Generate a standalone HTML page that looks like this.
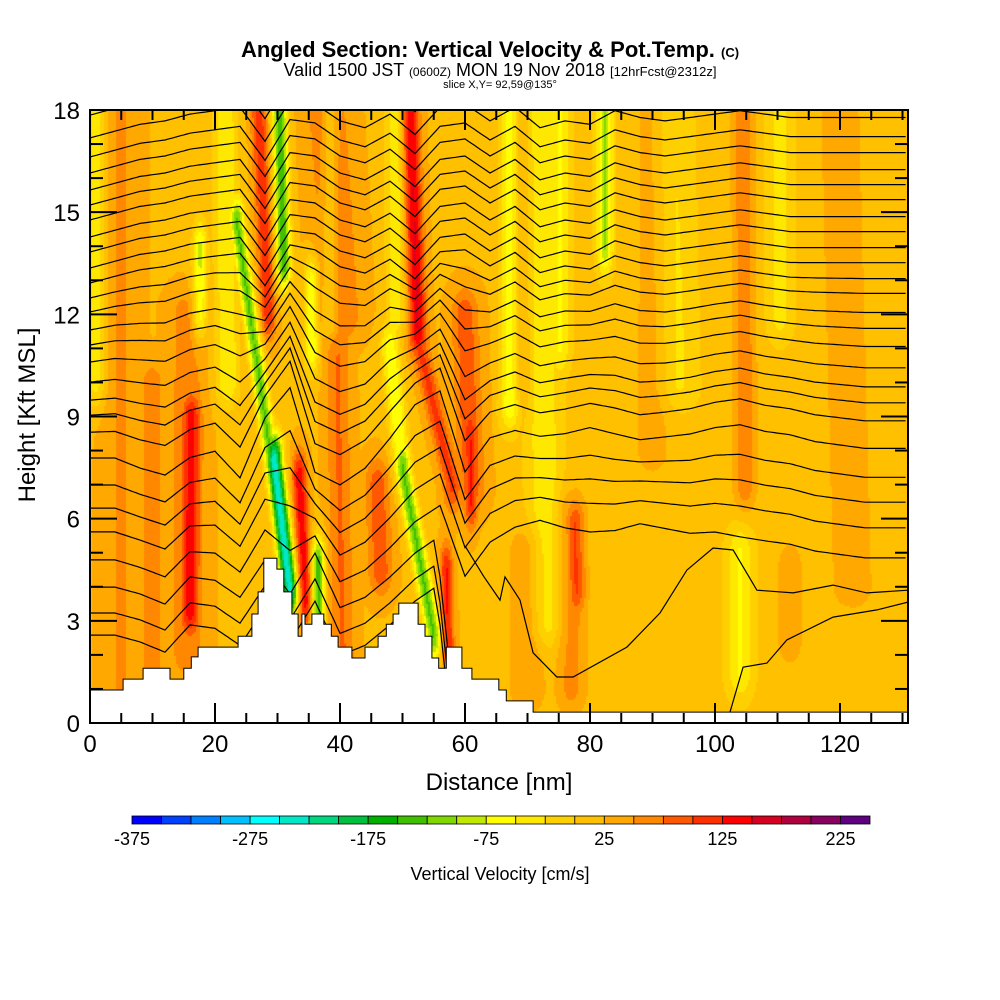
<!DOCTYPE html>
<html><head><meta charset="utf-8"><style>
body{margin:0;background:#fff;}
#wrap{position:relative;width:1000px;height:1000px;background:#fff;font-family:"Liberation Sans",sans-serif;}
canvas{position:absolute;left:90px;top:110px;}
svg{position:absolute;left:0;top:0;}
</style></head><body>
<div id="wrap">
<canvas id="field" width="818" height="613"></canvas>
<svg id="svg" width="1000" height="1000">
<text x="490" y="57" text-anchor="middle" font-size="22" font-weight="bold">Angled Section: Vertical Velocity &amp; Pot.Temp. <tspan font-size="13">(C)</tspan></text>
<text x="500" y="76" text-anchor="middle" font-size="18">Valid 1500 JST <tspan font-size="12">(0600Z)</tspan> MON 19 Nov 2018 <tspan font-size="13">[12hrFcst@2312z]</tspan></text>
<text x="500" y="88" text-anchor="middle" font-size="11">slice X,Y= 92,59@135°</text>
<g id="contours" clip-path="url(#pc)"></g>
<path id="terrain" fill="#fff" stroke="#000" stroke-width="1"/>
<clipPath id="pc"><rect x="90" y="110" width="818" height="613"/></clipPath>
<rect x="90" y="110" width="818" height="613" fill="none" stroke="#000" stroke-width="2"/>
<g id="ticks" stroke="#000" stroke-width="2"></g>
<g id="xlabels" font-size="24" text-anchor="middle"></g>
<g id="ylabels" font-size="24" text-anchor="end"></g>
<text x="499" y="790" text-anchor="middle" font-size="24">Distance [nm]</text>
<text x="0" y="0" transform="translate(35,415) rotate(-90)" text-anchor="middle" font-size="24">Height [Kft MSL]</text>
<g id="cbar"></g>
<text x="500" y="880" text-anchor="middle" font-size="18">Vertical Velocity [cm/s]</text>
</svg>
</div>
<script>
// ---- data ----
const binColors=["#0000ff","#0040ff","#0080ff","#00c0ff","#00ffff","#00e8c8","#00d880","#00c040","#00b000","#40c000","#80d800","#c0e800","#ffff00","#ffe800","#ffd000","#ffc000","#ffa800","#ff8800","#ff5800","#ff3000","#ff0000","#d80020","#b00040","#880060","#600080"];
const cbarLabels=[-375,-275,-175,-75,25,125,225];
const xTicks=[0,20,40,60,80,100,120];
const yTicks=[0,3,6,9,12,15,18];
// streaks: [nmTop,kftTop,nmBot,kftBot,halfWidthNm,value cm/s]
const streaks=[
[16.2,8.9,16,3.3,1.5,120],[15.5,12,15.5,2,3,40],[27,18,28.5,12,1.3,95],
[51.2,18,52.5,11.5,1.4,130],[52.8,11,58,7,1.5,85],[60.8,8.5,61,6.5,1.0,105],
[33.5,7.2,34.5,3.6,1.2,120],[39.5,11,40.5,1.5,2,55],[46,7,46.5,4.5,2,70],
[57,4.5,57.3,2.2,1.0,105],[77.6,5.8,77.8,3.9,1.5,95],[77,6,77,1,2.5,50],
[60,12,61,7,2.2,70],[38,18,40,12,3.5,55],[104.5,18,104.8,7,1.8,60],
[70,5,70,1,3,40],[112,4.5,112,2.5,2,40],[5,18,5,0,3,30],[10,10,10,1,2.5,35],
[68,18,68,10,2.5,40],[90,18,90,8,3,30],[120,18,122,4,4,30],
[30.3,18,31,13.5,1.2,-165],[23.5,14.7,32,3.9,1.2,-150],[29.5,7.7,32,3.9,1.3,-265],
[36.5,4.7,36.5,2.4,1.1,-160],[50,7.5,55,2.6,1.3,-150],[48,11,50,7.5,1.5,-95],
[17.6,14,17.6,12,1.2,-100],[35.5,13,35.5,11,1.2,-95],[67.2,18,67.2,9.5,1.5,-105],
[82.4,18,82.4,14,1.2,-110],[21.6,18,22,10,2,-70],[38.4,18,38.4,12,1.3,-65],
[48.8,18,48.8,12,1.5,-70],[72,18,73,3,2.5,-55],[75.2,18,75.2,11,1.5,-60],
[104,5,104,1.5,2,-60],[110.4,18,110.4,12,2,-45],[1,18,1,10,1.5,-60],[93,18,94,10,3,-40]
];
const baseLeft=22, baseRight=8;
const terrainX=[0,5.3,8.5,12.8,15,16.2,17.3,23.7,25.9,26.9,27.8,29.9,31,32.3,33.3,33.9,34.4,35.5,37.4,38.6,39.7,41.9,44,46.1,47.4,48.5,49.4,52.5,53.6,54.7,55.8,57,59.5,61.1,65.4,66.6,70.9];
const terrainH=[0.97,1.29,1.61,1.29,1.61,1.94,2.23,2.55,3.2,3.85,4.84,4.52,3.85,3.2,2.55,3.2,2.9,3.2,2.9,2.55,2.23,1.91,2.23,2.55,2.9,3.2,3.52,2.9,2.55,1.91,1.61,2.23,1.61,1.29,0.97,0.65,0.32];
const contourLevels=[17.85,17.18,16.62,16.15,15.65,15.21,14.77,14.27,13.83,13.36,12.92,12.48,12.07,11.54,11.1,10.6,10.01,9.48,9.04,8.54,7.78,6.99,6.31,5.61,4.79,3.99,3.23,2.58];
const profX=[0,4,8,12,16,20,24,28,32,36,40,44,48,52,56,60,64,68,72,76,80,84,88,92,96,100,104,108,112,116,120,124,128,132];
const dispHigh=[0,0.2,0.4,0.5,0.7,0.8,0.9,-0.1,1.1,1.0,0.5,0.3,0.7,0.1,0.9,1.0,0.5,0.9,0.3,0.5,0.4,0.8,0.6,0.5,0.6,0.7,0.8,0.7,0.6,0.6,0.6,0.6,0.6,0.6];
const dispMid=[0,0,-0.3,-0.5,0,0.2,-0.6,1.2,2.2,-0.5,-0.8,-0.3,0.6,1.6,2.0,-0.4,0.6,0.8,0.6,0.7,0.9,0.7,0.5,0.6,0.7,0.9,1.0,0.8,0.7,0.5,0.4,0.3,0.3,0.3];
const dispLow=[0,0,-0.2,-0.5,0.3,0.2,-0.3,0.8,-0.2,1.0,-0.6,-0.3,0.3,1.0,1.5,-0.5,0.5,1.0,1.3,1.0,0.8,0.9,1.2,1.0,0.8,0.8,0.6,0.5,0.4,0.2,0.1,0,0,0];
const line16X=[60,63,65.6,66.4,68.8,70.9,74.7,77.3,85.9,91.2,95.5,99.7,102.9,106.7,112.5,118.9,124.3,130.9];
const line16H=[5.2,4.3,3.61,4.29,3.61,2.06,1.35,1.35,2.23,3.23,4.49,5.14,5.08,3.9,3.82,4.05,3.82,3.9];
const line15X=[102.4,104.5,108.3,111.5,118.9,125.9,130.9];
const line15H=[0.32,1.64,1.76,2.44,3.11,3.32,3.55];

// ---- axes ----
const X0=90,X1=908,Y0=723,Y1=110,XMAX=130.88,YMAX=18;
const sx=v=>X0+v*(X1-X0)/XMAX;
const sy=v=>Y0-v*(Y0-Y1)/YMAX;
const NS="http://www.w3.org/2000/svg";
function mk(tag,parent){const e=document.createElementNS(NS,tag);parent.appendChild(e);return e;}
function binColor(v){let i=Math.floor((v+375)/25);i=Math.max(0,Math.min(24,i));return binColors[i];}
function interp(xa,ya,x){
 if(x<=xa[0])return ya[0];
 for(let i=1;i<xa.length;i++){if(x<=xa[i]){const f=(x-xa[i-1])/(xa[i]-xa[i-1]);return ya[i-1]+f*(ya[i]-ya[i-1]);}}
 return ya[ya.length-1];
}
function terrainAt(x){let h=terrainH[0];for(let i=0;i<terrainX.length;i++){if(x>=terrainX[i])h=terrainH[i];}return h;}

// ---- field ----
(function(){
 const cv=document.getElementById('field'),ctx=cv.getContext('2d');
 const W=818,H=613,step=2;
 for(let py=0;py<H;py+=step){
  const h=YMAX*(1-(py+1)/H);
  for(let px=0;px<W;px+=step){
   const x=XMAX*(px+1)/W;
   let pos=0,neg=0,acc=0;
   for(const s of streaks){
    const [xt,ht,xb,hb,w,val]=s;
    let t=(ht-h)/(ht-hb),env=1;
    if(t<0){env=Math.exp(-Math.pow((h-ht)/0.8,2));t=0;}
    else if(t>1){env=Math.exp(-Math.pow((hb-h)/0.8,2));t=1;}
    const xc=xt+t*(xb-xt);
    const d=(x-xc)/w;
    if(d>-4&&d<4){const c=val*Math.exp(-d*d)*env;
      if(c>0){acc+=c*0.25;if(c>pos)pos=c;}else{if(c<neg)neg=c;}}
   }
   let v=(x<65?baseLeft:baseRight)+pos+neg+Math.min(acc,15)-Math.min(pos*0.25,15);
   ctx.fillStyle=binColor(v);
   ctx.fillRect(px,py,step,step);
  }
 }
})();

// ---- contours ----
const cg=document.getElementById('contours');
contourLevels.forEach((lev,k)=>{
 let pts=[];
 for(let x=0;x<=XMAX+0.01;x+=0.5){
  const hi=interp(profX,dispHigh,x),mi=interp(profX,dispMid,x),lo=interp(profX,dispLow,x);
  let d;
  if(lev>=13)d=hi;else if(lev>=8)d=mi+(hi-mi)*(lev-8)/5;else if(lev>=4)d=lo+(mi-lo)*(lev-4)/4;else d=lo;
  if(lev<4.5&&x>55)d-=(x-55)*1.2;
  const hh=lev+d;
  pts.push(sx(x).toFixed(1)+','+sy(hh).toFixed(1));
  if(lev<4.5&&x>55&&hh<terrainAt(x))break;
 }
 const pl=mk('polyline',cg);
 
 
 pl.setAttribute('points',pts.join(' '));
 pl.setAttribute('fill','none');pl.setAttribute('stroke','#000');pl.setAttribute('stroke-width','1.2');
});
[[line16X,line16H],[line15X,line15H]].forEach(([xa,ha])=>{
 const pl=mk('polyline',cg);
 
 
 pl.setAttribute('points',xa.map((x,i)=>sx(x).toFixed(1)+','+sy(ha[i]).toFixed(1)).join(' '));
 pl.setAttribute('fill','none');pl.setAttribute('stroke','#000');pl.setAttribute('stroke-width','1.2');
});

// ---- terrain ----
(function(){
 let d='M'+sx(0)+','+Y0;
 for(let i=0;i<terrainX.length;i++){
  d+=' L'+sx(terrainX[i]).toFixed(1)+','+sy(terrainH[i]).toFixed(1);
  const nx=i+1<terrainX.length?terrainX[i+1]:XMAX;
  d+=' L'+sx(nx).toFixed(1)+','+sy(terrainH[i]).toFixed(1);
 }
 d+=' L'+X1+','+Y0+' Z';
 document.getElementById('terrain').setAttribute('d',d);
})();

// ---- ticks & labels ----
const tg=document.getElementById('ticks');
for(let v=0;v<=130;v+=5){
 const major=v%20===0,L=major?20:10,x=sx(v);
 [[Y0,Y0-L],[Y1,Y1+L]].forEach(([a,b])=>{const l=mk('line',tg);l.setAttribute('x1',x);l.setAttribute('x2',x);l.setAttribute('y1',a);l.setAttribute('y2',b);});
}
for(let v=0;v<=18;v+=1){
 const major=v%3===0,L=major?27:13,y=sy(v);
 [[X0,X0+L],[X1,X1-L]].forEach(([a,b])=>{const l=mk('line',tg);l.setAttribute('y1',y);l.setAttribute('y2',y);l.setAttribute('x1',a);l.setAttribute('x2',b);});
}
const xl=document.getElementById('xlabels');
xTicks.forEach(v=>{const t=mk('text',xl);t.setAttribute('x',sx(v));t.setAttribute('y',752);t.textContent=v;});
const yl=document.getElementById('ylabels');
yTicks.forEach(v=>{const t=mk('text',yl);t.setAttribute('x',80);t.setAttribute('y',sy(v)+9);t.textContent=v;});

// ---- colorbar ----
const cb=document.getElementById('cbar');
const cbX0=132,cbW=29.52,cbY=816,cbH=8;
binColors.forEach((c,i)=>{const r=mk('rect',cb);r.setAttribute('x',cbX0+i*cbW);r.setAttribute('y',cbY);r.setAttribute('width',cbW);r.setAttribute('height',cbH);r.setAttribute('fill',c);r.setAttribute('stroke','#000');r.setAttribute('stroke-width','0.8');});
cbarLabels.forEach(v=>{const t=mk('text',cb);t.setAttribute('x',cbX0+(v+375)/25*cbW);t.setAttribute('y',845);t.setAttribute('text-anchor','middle');t.setAttribute('font-size','18');t.textContent=v;});
</script>
</body></html>
